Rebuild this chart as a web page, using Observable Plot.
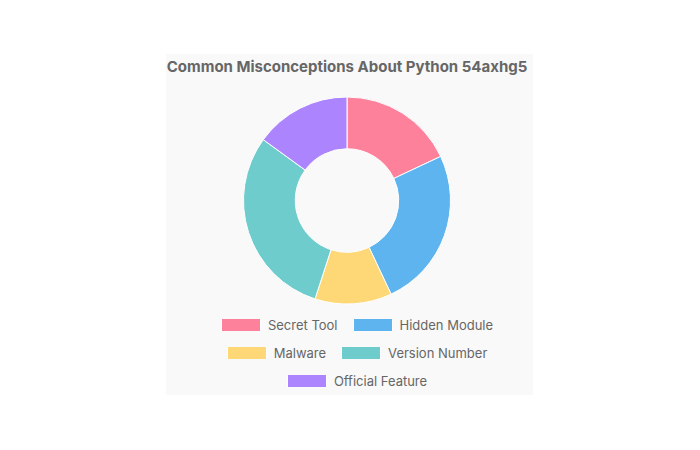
<!DOCTYPE html>
<html><head><meta charset="utf-8">
<script src="https://cdn.jsdelivr.net/npm/d3@7"></script>
<script src="https://cdn.jsdelivr.net/npm/@observablehq/plot@0.6"></script>
<style>
html,body{margin:0;padding:0;background:#fff;}
body{width:700px;height:450px;position:relative;font-family:Inter,"Noto Sans",sans-serif;}
#box{position:absolute;left:166px;top:54px;width:367px;height:341px;background:#f9f9f9;}
#title{position:absolute;left:0;top:3px;width:362px;text-align:center;font-weight:700;font-size:15px;line-height:20px;color:#666;white-space:nowrap;}
#chart{position:absolute;left:0;top:42.5px;}
#legend{position:absolute;left:41px;top:257px;width:300px;display:flex;flex-wrap:wrap;justify-content:center;}
.item{display:flex;align-items:center;height:28px;margin:0 7.5px;font-size:13px;color:#666;white-space:nowrap;}
.sw{width:40px;height:12px;margin-right:7px;box-sizing:border-box;border:1px solid #fff;border-top:none;border-bottom:none;}
</style>
</head>
<body>
<div id="box">
  <div id="title"></div>
  <div id="chart"></div>
  <div id="legend"></div>
</div>
<script>
const title = "Common Misconceptions About Python 54axhg5";
const labels = ["Secret Tool", "Hidden Module", "Malware", "Version Number", "Official Feature"];
const shares = [18, 25, 12, 30, 15];
const colors = ["rgba(255,99,132,0.8)", "rgba(54,162,235,0.8)", "rgba(255,206,86,0.8)", "rgba(75,192,192,0.8)", "rgba(153,102,255,0.8)"];

const data = labels.map((label, i) => ({label, value: shares[i]}));

document.getElementById("title").textContent = title;

const chart = Plot.plot({
  width: 362,
  height: 207,
  margin: 0,
  x: {domain: [-1, 1], axis: null},
  y: {domain: [-1, 1], axis: null},
  color: {domain: labels, range: colors},
  style: {background: "transparent", overflow: "visible"},
  marks: [
    Plot.dot(data, {
      x: () => 0,
      y: () => 0,
      fill: "label",
      render: (index, scales, values) => {
        const g = d3.create("svg:g");
        const r = Math.abs(scales.y(1) - scales.y(0));
        const pie = d3.pie().sort(null).value(d => d.value)(data);
        const arc = d3.arc().innerRadius(r * 0.5).outerRadius(r);
        for (const i of index) {
          g.append("path")
            .attr("d", arc(pie[i]))
            .attr("transform", `translate(${values.x[i]},${values.y[i]})`)
            .attr("fill", values.fill[i])
            .attr("stroke", "#fff")
            .attr("stroke-width", 1);
        }
        return g.node();
      }
    })
  ]
});
document.getElementById("chart").appendChild(chart);

const colorScale = chart.scale("color");
const legend = document.getElementById("legend");
labels.forEach(l => {
  const item = document.createElement("div");
  item.className = "item";
  const sw = document.createElement("div");
  sw.className = "sw";
  sw.style.background = colorScale.apply(l);
  const t = document.createElement("span");
  t.textContent = l;
  item.appendChild(sw);
  item.appendChild(t);
  legend.appendChild(item);
});
</script>
</body></html>
